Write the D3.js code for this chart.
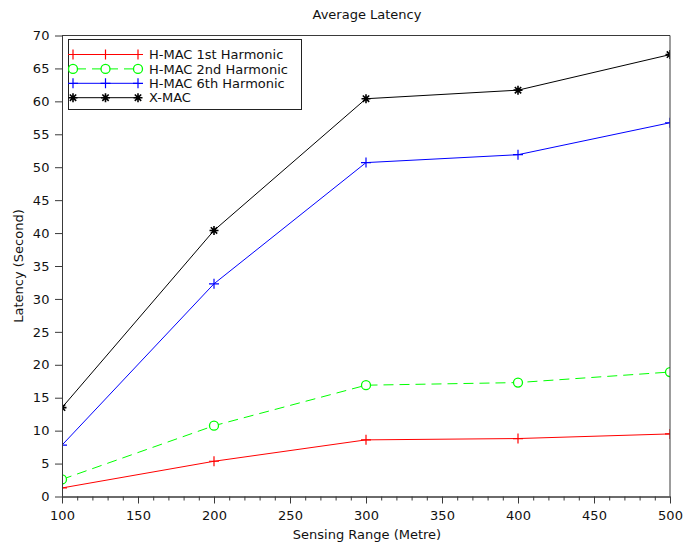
<!DOCTYPE html>
<html><head><meta charset="utf-8">
<script src="https://cdn.jsdelivr.net/npm/d3@7"></script>
<style>body{margin:0;background:#fff}svg{display:block;font-family:"DejaVu Sans",sans-serif}</style>
</head><body>
<script>
const ranges = [100, 200, 300, 400, 500];
const hmac1 = [1.3, 5.35, 8.6, 8.8, 9.5];
const hmac2 = [2.6, 10.75, 16.9, 17.3, 18.9];
const hmac6 = [7.8, 32.3, 50.7, 51.9, 56.75];
const xmac = [13.5, 40.4, 60.4, 61.7, 67.1];
const seriesNames = ["H-MAC 1st Harmonic", "H-MAC 2nd Harmonic", "H-MAC 6th Harmonic", "X-MAC"];
const seriesColors = ["#ff0000", "#00ff00", "#0000ff", "#000000"];
const seriesMarkers = ["plus", "circle", "plus", "star"];
const xTicks = [100,150,200,250,300,350,400,450,500];
const yTicks = [0,5,10,15,20,25,30,35,40,45,50,55,60,65,70];

const W = 683, H = 542;
const m = {left: 62, right: 670, top: 35.5, bottom: 496.5};
const svg = d3.select("body").append("svg").attr("width", W).attr("height", H);
const x = d3.scaleLinear().domain([100, 500]).range([m.left, m.right]);
const y = d3.scaleLinear().domain([0, 70]).range([m.bottom, m.top]);
const axisColor = "#3a3a3a";
const FS = 13;

svg.append("defs").append("clipPath").attr("id", "plotclip").append("rect")
  .attr("x", m.left).attr("y", m.top).attr("width", m.right - m.left).attr("height", m.bottom - m.top);

function marker(g, type, cx, cy, color) {
  if (type === "plus") {
    g.append("path").attr("d", `M${cx-5},${cy}H${cx+5}M${cx},${cy-5}V${cy+5}`).attr("stroke", color).attr("stroke-width", 1.2).attr("fill","none");
  } else if (type === "circle") {
    g.append("circle").attr("cx", cx).attr("cy", cy).attr("r", 4.5).attr("fill", "#fff").attr("stroke", color).attr("stroke-width", 1.3);
  } else {
    let d = "";
    for (let k = 0; k < 4; k++) {
      const a = k * Math.PI / 4, r = 4.5;
      d += `M${cx - r*Math.cos(a)},${cy - r*Math.sin(a)}L${cx + r*Math.cos(a)},${cy + r*Math.sin(a)}`;
    }
    g.append("path").attr("d", d).attr("stroke", color).attr("stroke-width", 1.6).attr("fill","none");
  }
}

// data (clipped to plot area)
const allSeries = [hmac1, hmac2, hmac6, xmac];
const line = d3.line().x((d, i) => x(ranges[i])).y(d => y(d));
const plot = svg.append("g").attr("clip-path", "url(#plotclip)");
allSeries.forEach((vals, si) => {
  const g = plot.append("g");
  g.append("path").datum(vals).attr("d", line).attr("fill","none")
    .attr("stroke", seriesColors[si]).attr("stroke-width", 1)
    .attr("stroke-dasharray", seriesMarkers[si] === "circle" ? "10,6" : null);
  vals.forEach((v, i) => marker(g, seriesMarkers[si], x(ranges[i]), y(v), seriesColors[si]));
});

// frame top/right
svg.append("path").attr("d", `M${m.left},${m.top}H${m.right}V${m.bottom}`)
  .attr("fill","none").attr("stroke", axisColor).attr("stroke-width",1);

// x axis
const xa = svg.append("g").attr("transform", `translate(0,${m.bottom})`)
  .call(d3.axisBottom(x).tickValues(xTicks).tickSize(7).tickSizeOuter(0).tickFormat(d3.format("d")));
xa.append("g").call(d3.axisBottom(x).tickValues(d3.range(100, 501, 10).filter(v => v % 50)).tickSize(4).tickFormat("").tickSizeOuter(0));
// y axis
const ya = svg.append("g").attr("transform", `translate(${m.left},0)`)
  .call(d3.axisLeft(y).tickValues(yTicks).tickSize(7).tickSizeOuter(0).tickFormat(d3.format("d")));
svg.selectAll(".domain").attr("stroke", axisColor);
svg.selectAll(".tick line").attr("stroke", axisColor);
svg.selectAll(".tick text").attr("font-family", "DejaVu Sans").attr("font-size", FS).attr("fill", "#111");
xa.selectAll(".tick text").attr("dy", "1.0em");
ya.selectAll(".tick text").attr("dx", "-0.2em");

// titles
svg.append("text").attr("x", (m.left + m.right)/2 + 1).attr("y", 19).attr("text-anchor","middle")
  .attr("font-size", FS).attr("fill","#111").text("Average Latency");
svg.append("text").attr("x", (m.left + m.right)/2 + 1).attr("y", 539).attr("text-anchor","middle")
  .attr("font-size", FS).attr("fill","#111").text("Sensing Range (Metre)");
svg.append("text").attr("transform", `translate(23,${(m.top+m.bottom)/2}) rotate(-90)`).attr("text-anchor","middle")
  .attr("font-size", FS).attr("fill","#111").text("Latency (Second)");

// legend
const lg = svg.append("g");
lg.append("rect").attr("x", 68.5).attr("y", 39.5).attr("width", 233).attr("height", 70)
  .attr("fill","#fff").attr("stroke", "#222").attr("stroke-width", 1);
seriesNames.forEach((name, i) => {
  const cy = 54.5 + i * 14.4;
  lg.append("line").attr("x1", 73).attr("x2", 138).attr("y1", cy).attr("y2", cy)
    .attr("stroke", seriesColors[i]).attr("stroke-width", 1)
    .attr("stroke-dasharray", seriesMarkers[i] === "circle" ? "10,6" : null)
    .attr("stroke-dashoffset", seriesMarkers[i] === "circle" ? -3 : null);
  [73, 105.5, 138].forEach(mx => marker(lg, seriesMarkers[i], mx, cy, seriesColors[i]));
  lg.append("text").attr("x", 149).attr("y", cy + 4.7).attr("font-size", FS).attr("fill","#111").text(name);
});
</script>
</body></html>
